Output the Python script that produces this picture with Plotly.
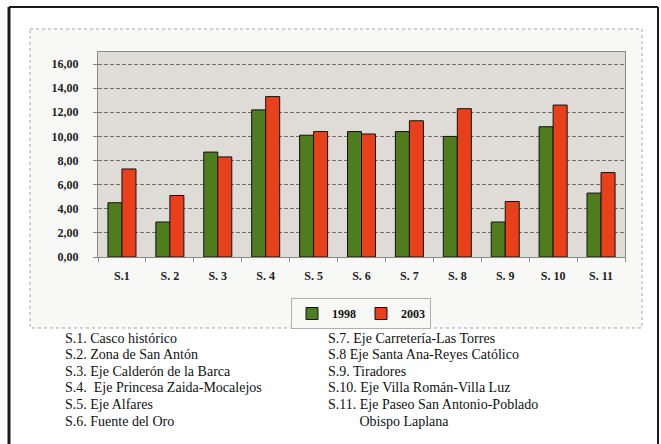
import plotly.graph_objects as go

# ---------------- data ----------------
categories = ["S.1", "S. 2", "S. 3", "S. 4", "S. 5", "S. 6", "S. 7", "S. 8", "S. 9", "S. 10", "S. 11"]
values_1998 = [4.5, 2.9, 8.7, 12.2, 10.1, 10.4, 10.4, 10.0, 2.9, 10.8, 5.3]
values_2003 = [7.3, 5.1, 8.3, 13.3, 10.4, 10.2, 11.3, 12.3, 4.6, 12.6, 7.0]
series_names = ["1998", "2003"]
y_tick_vals = [0, 2, 4, 6, 8, 10, 12, 14, 16]
y_tick_text = ["0,00", "2,00", "4,00", "6,00", "8,00", "10,00", "12,00", "14,00", "16,00"]

notes_left = [
    "S.1. Casco histórico",
    "S.2. Zona de San Antón",
    "S.3. Eje Calderón de la Barca",
    "S.4.\u00a0 Eje Princesa Zaida-Mocalejos",
    "S.5. Eje Alfares",
    "S.6. Fuente del Oro",
]
notes_right = [
    "S.7. Eje Carretería-Las Torres",
    "S.8 Eje Santa Ana-Reyes Católico",
    "S.9. Tiradores",
    "S.10. Eje Villa Román-Villa Luz",
    "S.11. Eje Paseo San Antonio-Poblado",
    "\u00a0\u00a0\u00a0\u00a0\u00a0\u00a0\u00a0\u00a0\u00a0Obispo Laplana",
]

# ---------------- geometry (pixels) ----------------
W, H = 661, 444
PL, PR, PT, PB = 98, 625, 52, 257  # plot area


def px(x, y):
    return (x - PL) / (PR - PL), (PB - y) / (PB - PT)


SERIF = "Liberation Serif"
GREEN = "#4f7c1c"
RED = "#e8401a"

fig = go.Figure()
fig.add_trace(go.Bar(x=categories, y=values_1998, name=series_names[0],
                     marker=dict(color=GREEN, line=dict(color="#111", width=1))))
fig.add_trace(go.Bar(x=categories, y=values_2003, name=series_names[1],
                     marker=dict(color=RED, line=dict(color="#111", width=1))))

shapes = []
# outer black frame
for (x0, y0, x1, y1, w) in [(9, 7, 658, 7, 2), (9, 7, 9, 444, 3), (658, 7, 658, 444, 2)]:
    a0, b0 = px(x0, y0)
    a1, b1 = px(x1, y1)
    shapes.append(dict(type="line", xref="paper", yref="paper", x0=a0, y0=b0, x1=a1, y1=b1,
                       line=dict(color="#1a1a1a", width=w), layer="below"))
# chart area box
a0, b0 = px(30, 29)
a1, b1 = px(642, 328)
shapes.append(dict(type="rect", xref="paper", yref="paper", x0=a0, y0=b0, x1=a1, y1=b1,
                   fillcolor="#f8f8f6", line=dict(color="#a8a8a8", width=1, dash="dot"),
                   layer="below"))
# plot area fill
shapes.append(dict(type="rect", xref="paper", yref="paper", x0=0, y0=0, x1=1, y1=1,
                   fillcolor="#dfdcd7", line=dict(width=0), layer="below"))

annotations = []
line_y0, line_dy = 338, 16.6
for i, t in enumerate(notes_left):
    ax, ay = px(63, line_y0 + i * line_dy)
    annotations.append(dict(text=t, x=ax, y=ay, xref="paper", yref="paper",
                            xanchor="left", yanchor="middle", showarrow=False,
                            font=dict(family=SERIF, size=14, color="#111")))
for i, t in enumerate(notes_right):
    ax, ay = px(326, line_y0 + i * line_dy)
    annotations.append(dict(text=t, x=ax, y=ay, xref="paper", yref="paper",
                            xanchor="left", yanchor="middle", showarrow=False,
                            font=dict(family=SERIF, size=14, color="#111")))

lx, ly = px(361, 298)
fig.update_layout(
    width=W, height=H,
    margin=dict(l=PL, r=W - PR, t=PT, b=H - PB, pad=0),
    paper_bgcolor="white",
    plot_bgcolor="rgba(0,0,0,0)",
    font=dict(family=SERIF),
    barmode="group", bargap=0.415, bargroupgap=0,
    shapes=shapes, annotations=annotations,
    showlegend=True,
    legend=dict(orientation="h", x=lx, xanchor="center", y=ly, yanchor="top",
                bgcolor="#f8f8f6", bordercolor="#b0b0b0", borderwidth=1,
                font=dict(family=SERIF, size=12, color="#111", weight="bold"),
                itemwidth=30, tracegroupgap=0),
    xaxis=dict(type="category", showgrid=False, showline=True, linecolor="#8a8a8a",
               linewidth=1, mirror=True, ticks="outside", tickson="boundaries",
               ticklen=4, tickcolor="#8a8a8a", ticklabelstandoff=8,
               tickfont=dict(family=SERIF, size=12, color="#222", weight="bold")),
    yaxis=dict(range=[0, 17], tickvals=y_tick_vals, ticktext=y_tick_text,
               showgrid=True, gridcolor="#707070", gridwidth=1, griddash="4px,2px",
               zeroline=False, showline=True, linecolor="#8a8a8a", linewidth=1,
               mirror=True, ticks="outside", ticklen=4, tickcolor="#8a8a8a",
               ticklabelstandoff=12,
               tickfont=dict(family=SERIF, size=12, color="#222", weight="bold")),
)

fig.write_html("out.html", config={"displayModeBar": False},
               post_script="document.body.style.margin='0';")
